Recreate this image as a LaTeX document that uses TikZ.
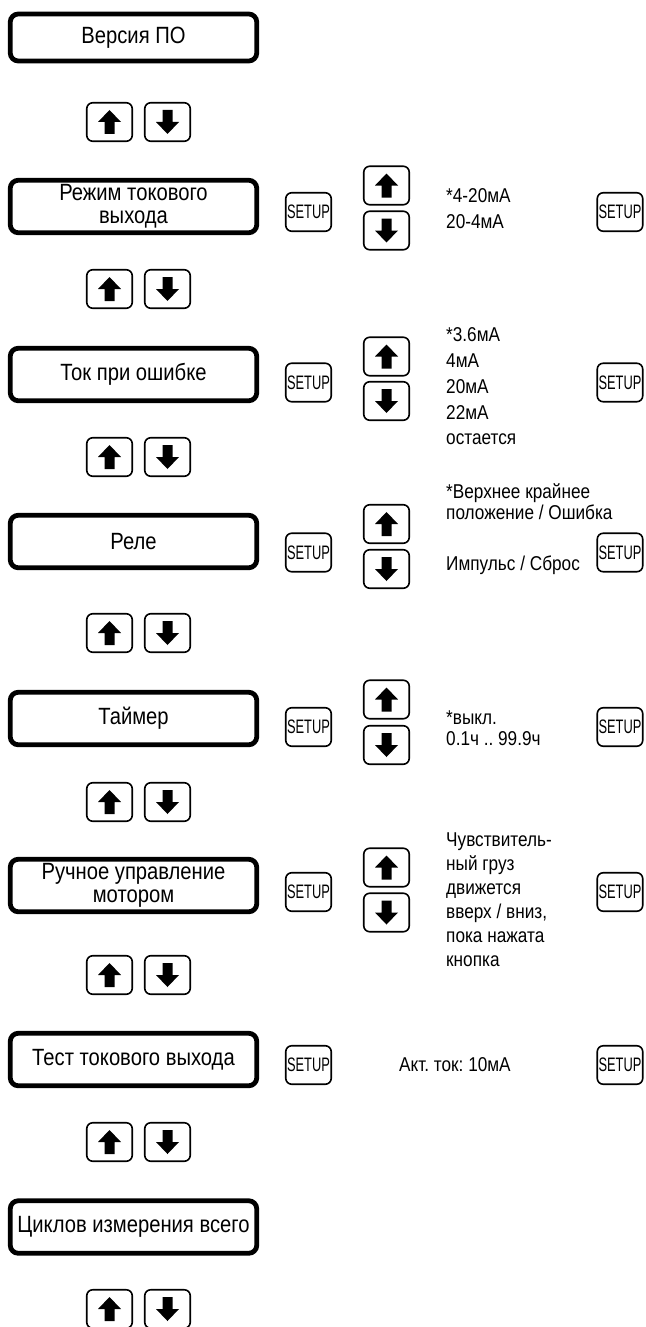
\documentclass[tikz,border=0pt]{standalone}
\usepackage{fontspec}
\setmainfont{Liberation Sans}[FakeStretch=0.86]
\newfontfamily\setupfont{Liberation Sans}[FakeStretch=0.66]
\usepackage{tikz}
\frenchspacing

% filled block arrows inside a key
\newcommand{\keyup}[1]{\fill[shift={(#1)}] (0,-12) -- (11.5,0) -- (5,0) -- (5,12) -- (-5,12) -- (-5,0) -- (-11.5,0) -- cycle;}
\newcommand{\keydown}[1]{\fill[shift={(#1)}] (0,12) -- (11.5,0) -- (5,0) -- (5,-12) -- (-5,-12) -- (-5,0) -- (-11.5,0) -- cycle;}

\begin{document}
\begin{tikzpicture}[x=1pt, y=-1pt,
	menubox/.style={draw, line width=4.8pt, rounded corners=8pt, minimum width=246.5pt, minimum height=52.5pt, align=center, inner sep=0pt, font=\fontsize{23.5}{22.5}\selectfont},
	keybox/.style={draw, line width=1.6pt, rounded corners=6pt, minimum width=45.5pt, minimum height=38.5pt, inner sep=0pt},
	setupkey/.style={keybox, font=\setupfont\fontsize{19.5}{19.5}\selectfont},
	choice/.style={anchor=west, align=left, inner sep=0pt, font=\fontsize{20}{#1}\selectfont},
	choice/.default=25pt]
	\useasboundingbox (0,0) rectangle (645,1327);

	% menu entries
	\node[menubox, minimum height=47pt] (version) at (133.5,37.5) {Версия ПО};
	\node[menubox] (outmode) at (133.5,206.5) {Режим токового\\выхода};
	\node[menubox] (errcur) at (133.5,374.5) {Ток при ошибке};
	\node[menubox] (relay) at (133.5,541.5) {Реле};
	\node[menubox] (timer) at (133.5,718.5) {Таймер};
	\node[menubox] (motor) at (133.5,885.5) {Ручное управление\\мотором};
	\node[menubox] (outtest) at (133.5,1059.5) {Тест токового выхода};
	\node[menubox] (cycles) at (133.5,1227) {Циклов измерения всего};

	% up / down keys between the entries
	\foreach \y/\n in {122/1, 289/2, 457/3, 633/4, 802/5, 975/6, 1142/7, 1309/8} {
		\node[keybox] (up\n) at (109.5,\y) {};
		\node[keybox] (down\n) at (167.5,\y) {};
		\keyup{up\n}
		\keydown{down\n}
	}

	% up / down keys of the settings
	\foreach \u/\d/\n in {185.5/230.5/a, 356.5/401/b, 524/569/c, 699.5/745/d, 867.5/912.5/e} {
		\node[keybox] (selup\n) at (386.5,\u) {};
		\node[keybox] (seldown\n) at (386.5,\d) {};
		\keyup{selup\n}
		\keydown{seldown\n}
	}

	% SETUP keys
	\foreach \y/\n in {212/a, 382.5/b, 552.5/c, 727/d, 892/e, 1065/f} {
		\node[setupkey] (setl\n) at (308.5,\y) {SETUP};
		\node[setupkey] (setr\n) at (620,\y) {SETUP};
	}

	% choices
	\node[choice=26pt] (modeval) at (446,209) {*4-20мА\\20-4мА};
	\node[choice=25.75pt] (errval) at (446,386.5) {*3.6мА\\4мА\\20мА\\22мА\\остается};
	\node[choice=21pt] (relayval) at (446,502) {*Верхнее крайнее\\положение / Ошибка};
	\node[choice] (relayval2) at (446,565) {Импульс / Сброс};
	\node[choice=21pt] (timerval) at (446,728) {*выкл.\\0.1ч .. 99.9ч};
	\node[choice=24pt] (motorval) at (446,900) {Чувствитель-\\ный груз\\движется\\вверх / вниз,\\пока нажата\\кнопка};
	\node[choice] (testval) at (399,1065) {Акт. ток: 10мА};
\end{tikzpicture}
\end{document}
